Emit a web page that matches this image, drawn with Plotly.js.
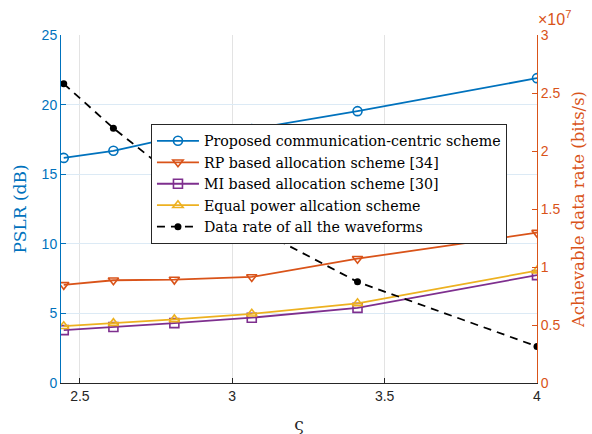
<!DOCTYPE html>
<html>
<head>
<meta charset="utf-8">
<script src="https://cdn.plot.ly/plotly-3.0.1.min.js"></script>
<style>html,body{margin:0;padding:0;background:#fff;}#chart{width:592px;height:434px;}</style>
</head>
<body>
<div id="chart"></div>
<script>
// varsigma values (x axis)
const varsigma = [2.447, 2.61, 2.81, 3.064, 3.411, 4.0];
// PSLR (dB), left axis
const pslrProposed = [16.17, 16.68, 17.65, 18.25, 19.53, 21.9];
const pslrRP = [7.05, 7.38, 7.43, 7.62, 8.93, 10.8];
const pslrMI = [3.8, 4.02, 4.3, 4.69, 5.4, 7.75];
const pslrEqual = [4.08, 4.3, 4.57, 4.97, 5.72, 8.07];
// Achievable data rate (bits/s), right axis
const dataRate = [2.58e7, 2.197e7, 1.78e7, 1.35e7, 0.872e7, 0.315e7];
const rightTickVals = [0, 0.5e7, 1e7, 1.5e7, 2e7, 2.5e7, 3e7];
const rightTickText = ['0', '0.5', '1', '1.5', '2', '2.5', '3'];

const names = ['Proposed communication-centric scheme', 'RP based allocation scheme [34]',
  'MI based allocation scheme [30]', 'Equal power allcation scheme', 'Data rate of all the waveforms'];

const BLUE = '#0072BD', ORANGE = '#D95319', PURPLE = '#7E2F8E', YELLOW = '#EDB120';
const serif = 'DejaVu Serif, serif';
const sans = 'Liberation Sans, Arial, sans-serif';

function tr(y, name, color, symbol) {
  return {x: varsigma, y: y, name: name, type: 'scatter', mode: 'lines+markers',
    line: {color: color, width: 1.8},
    marker: {symbol: symbol, size: 9, color: color, line: {color: color, width: 1.6}}};
}
const traces = [
  tr(pslrProposed, names[0], BLUE, 'circle-open'),
  tr(pslrRP, names[1], ORANGE, 'triangle-down-open'),
  tr(pslrMI, names[2], PURPLE, 'square-open'),
  tr(pslrEqual, names[3], YELLOW, 'triangle-up-open'),
  {x: varsigma, y: dataRate, name: names[4], type: 'scatter', mode: 'lines+markers', yaxis: 'y2',
    line: {color: '#000', width: 1.8, dash: '8px,6px'},
    marker: {symbol: 'circle', size: 7, color: '#000'}}
];

const layout = {
  width: 592, height: 434,
  margin: {l: 61, r: 55, t: 35, b: 51},
  paper_bgcolor: '#fff', plot_bgcolor: '#fff',
  showlegend: true,
  legend: {x: 0.189, y: 0.744, xanchor: 'left', yanchor: 'top',
    bgcolor: '#fff', bordercolor: '#262626', borderwidth: 1, itemwidth: 42,
    font: {family: serif, size: 14.2, color: '#000'}, tracegroupgap: 0},
  xaxis: {range: [2.438, 4.0], tickvals: [2.5, 3, 3.5, 4], ticktext: ['2.5', '3', '3.5', '4'],
    ticks: 'inside', ticklen: 5, tickcolor: '#262626', showline: true, linecolor: '#262626', linewidth: 1,
    showgrid: true, gridcolor: '#E3E3E3', zeroline: false,
    tickfont: {family: sans, size: 14, color: '#262626'},
    title: {text: 'ς', font: {family: serif, size: 17, color: '#262626'}, standoff: 16}},
  yaxis: {range: [0, 25], tickvals: [0, 5, 10, 15, 20, 25], ticks: 'inside', ticklen: 5, tickcolor: BLUE,
    showline: true, linecolor: BLUE, linewidth: 1, showgrid: true, gridcolor: '#DCEAF5', zeroline: false,
    tickfont: {family: sans, size: 14, color: BLUE},
    title: {text: 'PSLR (dB)', font: {family: serif, size: 17, color: BLUE}, standoff: 10}},
  yaxis2: {range: [0, 3e7], overlaying: 'y', side: 'right', tickvals: rightTickVals, ticktext: rightTickText,
    ticks: 'inside', ticklen: 5, tickcolor: ORANGE, showline: true, linecolor: ORANGE, linewidth: 1,
    showgrid: false, zeroline: false,
    tickfont: {family: sans, size: 14, color: ORANGE},
    title: {text: 'Achievable data rate (bits/s)', font: {family: serif, size: 16.5, color: ORANGE}, standoff: 12}},
  annotations: [{xref: 'paper', yref: 'paper', x: 1.0, y: 1.0, xanchor: 'left', yanchor: 'bottom', yshift: 5, xshift: -1,
    showarrow: false, text: '×10<sup>7</sup>', font: {family: sans, size: 16, color: ORANGE}}]
};
Plotly.newPlot('chart', traces, layout, {displayModeBar: false, staticPlot: true});
</script>
</body>
</html>
